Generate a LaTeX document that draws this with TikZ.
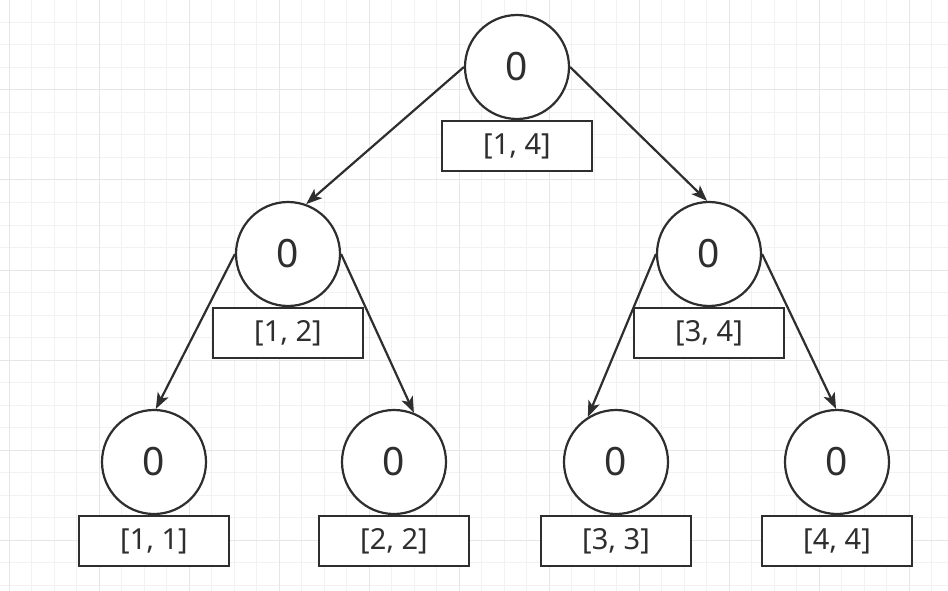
\documentclass[tikz,border=0pt]{standalone}
\usepackage{fontspec}
\setmainfont{Noto Sans}
\usetikzlibrary{arrows.meta,positioning}
\definecolor{ink}{HTML}{2E2E2E}
\definecolor{gridminor}{HTML}{F2F2F2}
\definecolor{gridmajor}{HTML}{E6E6E6}

\begin{document}
\begin{tikzpicture}[
  x=1pt, y=-1pt,
  seg/.style={draw=ink, circle, line width=2.2pt, minimum size=104pt, inner sep=0pt, fill=white, text=ink, font=\fontsize{39}{40}\selectfont},
  spanbox/.style={draw=ink, line width=2.2pt, minimum width=150pt, minimum height=50pt, inner sep=0pt, fill=white, text=ink, font=\fontsize{29}{30}\selectfont},
  link/.style={draw=ink, line width=2.2pt, -{Stealth[length=16pt, width=12pt, inset=4pt]}}
]
\useasboundingbox (0,0) rectangle (948,591);
\fill[white] (0,0) rectangle (948,591);

% background grid
\foreach \gx in {9,31.5,...,948} \draw[gridminor, line width=1pt] (\gx,0) -- (\gx,591);
\foreach \gy in {0,22.5,...,591} \draw[gridminor, line width=1pt] (0,\gy) -- (948,\gy);
\foreach \gx in {9,99,...,948} \draw[gridmajor, line width=1pt] (\gx,0) -- (\gx,591);
\foreach \gy in {0,90,...,591} \draw[gridmajor, line width=1pt] (0,\gy) -- (948,\gy);

% segment tree nodes
\node[seg] (root) at (517,67) {0};
\node[spanbox, below=0pt of root] (rootspan) {[1, 4]};

\node[seg] (left) at (288,254) {0};
\node[spanbox, below=0pt of left] (leftspan) {[1, 2]};
\node[seg] (right) at (709,254) {0};
\node[spanbox, below=0pt of right] (rightspan) {[3, 4]};

\node[seg] (leaf1) at (154,462) {0};
\node[spanbox, below=0pt of leaf1] (leaf1span) {[1, 1]};
\node[seg] (leaf2) at (394,462) {0};
\node[spanbox, below=0pt of leaf2] (leaf2span) {[2, 2]};
\node[seg] (leaf3) at (616,462) {0};
\node[spanbox, below=0pt of leaf3] (leaf3span) {[3, 3]};
\node[seg] (leaf4) at (837,462) {0};
\node[spanbox, below=0pt of leaf4] (leaf4span) {[4, 4]};

\draw[link] (root.west) -- (left.70);
\draw[link] (root.east) -- (right.92);
\draw[link] (left.west) -- (leaf1.88);
\draw[link] (left.east) -- (leaf2.68);
\draw[link] (right.west) -- (leaf3.122);
\draw[link] (right.east) -- (leaf4.91);
\end{tikzpicture}
\end{document}
